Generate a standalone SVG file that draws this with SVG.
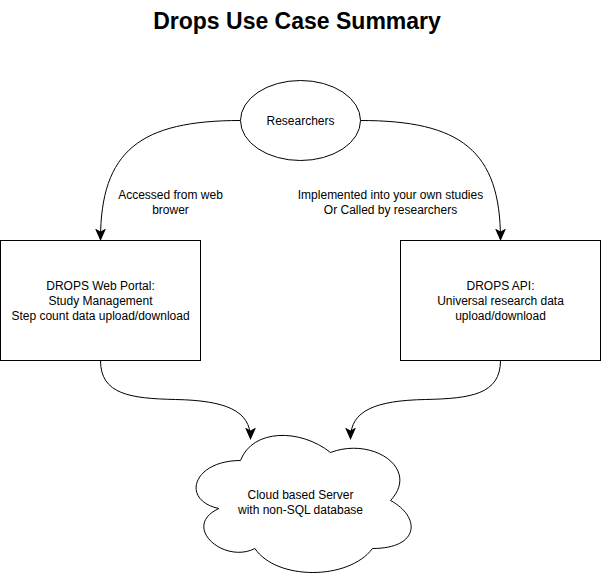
<svg xmlns="http://www.w3.org/2000/svg" width="601" height="581" viewBox="0 0 601 581">
<style>
  .shape { fill: #ffffff; stroke: #000000; stroke-width: 1; }
  .edge { fill: none; stroke: #000000; stroke-width: 1; }
  .lbl { font-family: "Liberation Sans", Arial, Helvetica, sans-serif; font-size: 12px; fill: #000000; text-anchor: middle; }
  .title { font-family: "Liberation Sans", Arial, Helvetica, sans-serif; font-size: 23px; font-weight: bold; fill: #000000; text-anchor: middle; }
</style>
<defs>
  <marker id="arrow" markerUnits="userSpaceOnUse" markerWidth="12" markerHeight="12" viewBox="0 0 10 10" refX="9" refY="5" orient="auto">
    <path d="M1,1.5 L9,5 L1,8.5 L3,5 Z" fill="#000000" stroke="#000000" stroke-width="1"/>
  </marker>
</defs>
<rect x="0" y="0" width="601" height="581" fill="#ffffff"/>
<text class="title" x="297" y="29">Drops Use Case Summary</text>
<g transform="translate(0.5,0.5)">
  <g id="connectors">
    <path class="edge" d="M240 120 C 140 120, 100 150, 100 239" marker-end="url(#arrow)"/>
    <path class="edge" d="M360 120 C 460 120, 500 150, 500 239" marker-end="url(#arrow)"/>
    <path class="edge" d="M100 360 C 100 394, 130 398, 175 399 C 225 400, 250 410, 250 438" marker-end="url(#arrow)"/>
    <path class="edge" d="M500 360 C 500 394, 470 398, 425 399 C 375 400, 350 410, 350 438" marker-end="url(#arrow)"/>
    <text class="lbl" x="170" y="198">Accessed from web</text>
    <text class="lbl" x="170" y="213">brower</text>
    <text class="lbl" x="390" y="198">Implemented into your own studies</text>
    <text class="lbl" x="390" y="213">Or Called by researchers</text>
  </g>
  <g id="researchers">
    <ellipse class="shape" cx="300" cy="120" rx="60" ry="40"/>
    <text class="lbl" x="300" y="124">Researchers</text>
  </g>
  <g id="web-portal">
    <rect class="shape" x="0" y="240" width="200" height="120"/>
    <text class="lbl" x="100" y="289">DROPS Web Portal:</text>
    <text class="lbl" x="100" y="304">Study Management</text>
    <text class="lbl" x="100" y="319">Step count data upload/download</text>
  </g>
  <g id="api">
    <rect class="shape" x="400" y="240" width="200" height="120"/>
    <text class="lbl" x="500" y="289">DROPS API:</text>
    <text class="lbl" x="500" y="304">Universal research data</text>
    <text class="lbl" x="500" y="319">upload/download</text>
  </g>
  <g id="cloud-server">
    <path class="shape" d="M240 460 C 192 460, 180 500, 218.4 508 C 180 525.6, 223.2 564, 254.4 548 C 276 580, 348 580, 372 548 C 420 548, 420 516, 390 500 C 420 468, 372 436, 330 452 C 300 428, 252 428, 240 460 Z"/>
    <text class="lbl" x="300" y="498">Cloud based Server</text>
    <text class="lbl" x="300" y="513">with non-SQL database</text>
  </g>
</g>
</svg>
